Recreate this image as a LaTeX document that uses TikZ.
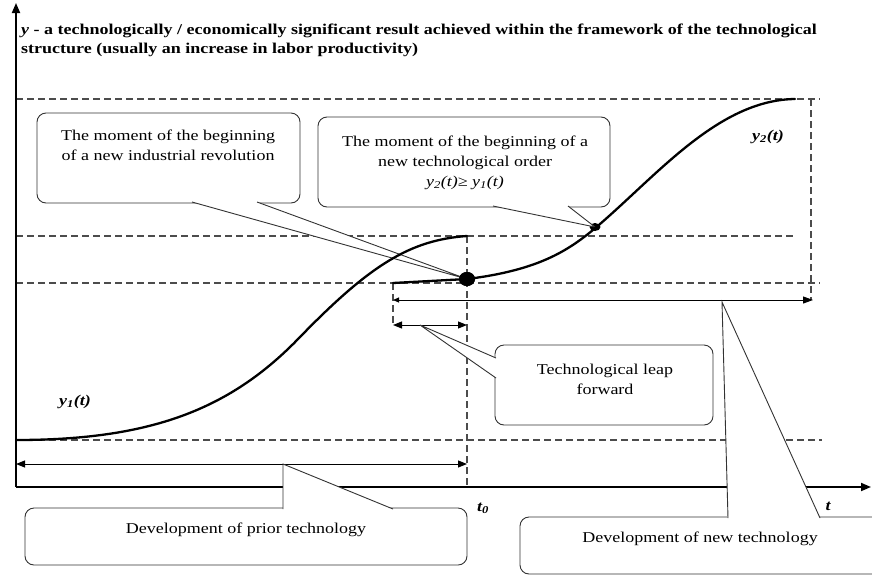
\documentclass[tikz,border=0pt]{standalone}
\usepackage{fontspec}
\setmainfont{Liberation Serif}[FakeStretch=1.2]
\usetikzlibrary{arrows.meta,positioning,shapes.geometric}
\begin{document}
\begin{tikzpicture}[x=1pt,y=-1pt,
	guide/.style={dash pattern=on 7pt off 4pt,line width=1.3pt,black!70},
	curve/.style={line width=2.3pt,line cap=round},
	note/.style={draw=black!80,line width=0.9pt,rounded corners=9pt,fill=white},
	notetext/.style={align=center,inner sep=0pt,font=\fontsize{15}{20}\selectfont},
	pointer/.style={draw=black!80,line width=0.9pt},
	axis/.style={line width=1.8pt,-{Triangle[length=10pt,width=8pt]}},
	span/.style={line width=1pt,{Triangle[length=9pt,width=7pt]}-{Triangle[length=9pt,width=7pt]}},
	bigdot/.style={ellipse,fill,inner sep=0pt,minimum width=16pt,minimum height=14pt},
	smalldot/.style={ellipse,fill,inner sep=0pt,minimum width=11pt,minimum height=8pt},
	curvelabel/.style={font=\fontsize{15}{18}\selectfont\bfseries\itshape}]
\useasboundingbox (0,0) rectangle (872,576);

	% guide lines
	\draw[guide] (16,99) -- (820,99);
	\draw[guide] (16,236) -- (795,236);
	\draw[guide] (16,283) -- (820,283);
	\draw[guide] (16,440) -- (822,440);
	\draw[guide] (467,236) -- (467,487);
	\draw[guide] (811,99) -- (811,300);
	\draw[guide] (393,283) -- (393,325);

	% axes
	\coordinate (O) at (16,487);
	\coordinate (ytop) at (16,3);
	\coordinate (xend) at (871,487);
	\draw[axis] (O) -- (ytop);
	\draw[axis] (O) -- (xend);
	\node[anchor=north west,inner sep=0pt,align=left,font=\fontsize{15}{19}\selectfont\bfseries] (ytitle) at (21,24)
		{\textit{y} - a technologically / economically significant result achieved within the framework of the technological\\
		structure (usually an increase in labor productivity)};
	\node[curvelabel] (t0) at (483,508) {t\textsubscript{0}};
	\node[curvelabel] (t) at (828,506) {t};

	% spans
	\coordinate (priorL) at (16,464);
	\coordinate (priorR) at (467,464);
	\draw[span] (priorL) -- (priorR);
	\coordinate (newL) at (393,300);
	\coordinate (newR) at (813,300);
	\draw[line width=1pt,{Triangle[length=6pt,width=5pt]}-{Triangle[length=10pt,width=7pt]}] (newL) -- (newR);
	\coordinate (leapL) at (393,325);
	\coordinate (leapR) at (467,325);
	\draw[span] (leapL) -- (leapR);

	% dots
	\node[bigdot] (rev) at (467,279) {};
	\node[smalldot] (order) at (595,227) {};

	% callouts
	\node[note,minimum width=263pt,minimum height=90pt] (revbox) at (168.5,158) {};
	\node[notetext] (revtext) at (168,145) {The moment of the beginning\\of a new industrial revolution};
	\coordinate (revA) at (192,202);
	\coordinate (revB) at (257,202);
	\fill[white] (revA) -- (rev.center) -- (revB) -- cycle;
	\draw[pointer] (revA) -- (rev.center) -- (revB);

	\node[note,minimum width=292pt,minimum height=90pt] (orderbox) at (464,162) {};
	\node[notetext] (ordertext) at (465,163) {The moment of the beginning of a\\new technological order\\
		\textit{y\textsubscript{2}(t)≥ y\textsubscript{1}(t)}};
	\coordinate (orderA) at (493,206);
	\coordinate (orderB) at (568,206);
	\fill[white] (orderA) -- (order.center) -- (orderB) -- cycle;
	\draw[pointer] (orderA) -- (order.center) -- (orderB);

	\node[note,minimum width=218pt,minimum height=80pt] (leapbox) at (604,385) {};
	\node[notetext] (leaptext) at (605,379) {Technological leap\\forward};
	\coordinate (leapA) at (496,358);
	\coordinate (leapB) at (496,378);
	\coordinate (leapTip) at (420,325);
	\fill[white] (leapA) -- (leapTip) -- (leapB) -- cycle;
	\draw[pointer] (leapA) -- (leapTip) -- (leapB);

	\node[note,minimum width=442pt,minimum height=57pt] (priorbox) at (246,536.5) {};
	\node[notetext] (priortext) at (246,530) {Development of prior technology};
	\coordinate (priorA) at (283,509);
	\coordinate (priorB) at (393,509);
	\coordinate (priorTip) at (283,464);
	\fill[white] (priorA) -- (priorTip) -- (priorB) -- cycle;
	\draw[pointer] (priorA) -- (priorTip) -- (priorB);

	\node[note,minimum width=365pt,minimum height=57pt] (newbox) at (702.5,545.5) {};
	\node[notetext] (newtext) at (700,539) {Development of new technology};
	\coordinate (newA) at (728,518);
	\coordinate (newB) at (820,518);
	\coordinate (newTip) at (722,302);
	\fill[white] (newA) -- (newTip) -- (newB) -- cycle;
	\draw[pointer] (newA) -- (newTip) -- (newB);

	% curves
	\draw[curve] (16,440) .. controls (150,440) and (230,410) .. (300,337)
		.. controls (370,265) and (410,240) .. (467,236);
	\draw[curve] (393,283) -- (rev.center);
	\draw[curve] (rev.center) .. controls (540,270) and (570,250) .. (600,224)
		.. controls (660,172) and (720,100) .. (795,99);
	\node[bigdot] (rev2) at (rev) {};
	\node[curvelabel] (y1) at (75,402) {y\textsubscript{1}(t)};
	\node[curvelabel] (y2) at (768,137) {y\textsubscript{2}(t)};
\end{tikzpicture}
\end{document}
